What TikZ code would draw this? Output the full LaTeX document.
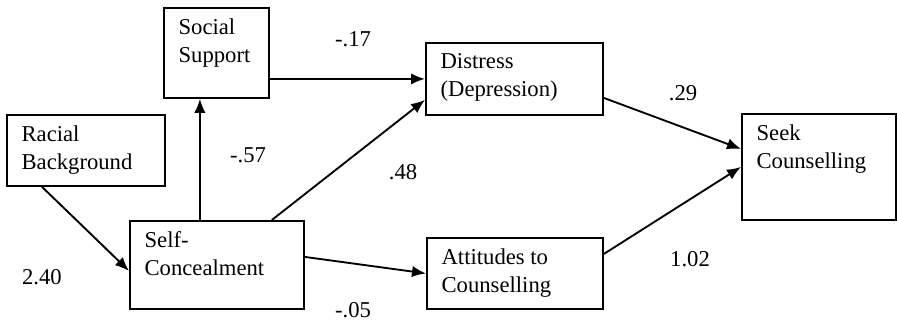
\documentclass[tikz,border=0pt]{standalone}
\usepackage{fontspec}
\setmainfont{Liberation Serif}
\usetikzlibrary{arrows.meta}

\newcommand{\vartext}[3]{\parbox[c][#2][t]{#1}{\raggedright #3}}

\tikzset{
  varbox/.style={draw, line width=1.4pt, anchor=north west, inner xsep=11pt, inner ysep=8pt},
  path/.style={line width=1.4pt, -{Latex[length=10.5pt,width=8.5pt]}},
  weight/.style={inner sep=0pt}
}

\begin{document}
\begin{tikzpicture}[x=0.75pt, y=-0.75pt, font=\fontsize{17pt}{21pt}\selectfont]
    \useasboundingbox (0,0) rectangle (897,323);

    \node[varbox] (SS) at (163, 7) {\vartext{56.75pt}{51.5pt}{Social\\Support}};
    \node[varbox] (RB) at (6, 114) {\vartext{96.5pt}{37.25pt}{Racial\\Background}};
    \node[varbox] (SC) at (129, 220) {\vartext{108.5pt}{50pt}{Self-\\Concealment}};
    \node[varbox] (DD) at (425, 42) {\vartext{110.75pt}{38pt}{Distress\\(Depression)}};
    \node[varbox] (AC) at (426, 237) {\vartext{110pt}{37.25pt}{Attitudes to\\Counselling}};
    \node[varbox] (SK) at (741, 113) {\vartext{93.5pt}{63.5pt}{Seek\\Counselling}};

    \coordinate (ssin) at ([xshift=-12.4pt]SS.south);

    \draw[path] (SS.east |- DD.west) -- (DD.west);
    \draw[path] (ssin |- SC.north) -- (ssin);
    \draw[path] ([xshift=-24.75pt]SC.north east) -- ([yshift=12pt]DD.south west);
    \draw[path] ([xshift=27pt]RB.south west) -- ([yshift=-4.5pt]SC.west);
    \draw[path] ([yshift=6pt]SC.east) -- (AC.west);
    \draw[path] ([yshift=-14.25pt]DD.east) -- ([yshift=13.5pt]SK.west);
    \draw[path] ([yshift=14.6pt]AC.east) -- (SK.west);

    \node[weight] (wssdd) at (353, 39) {-.17};
    \node[weight] (wscss) at (248, 155) {-.57};
    \node[weight] (wscdd) at (403, 172) {.48};
    \node[weight] (wrbsc) at (42, 277) {2.40};
    \node[weight] (wscac) at (353, 310) {-.05};
    \node[weight] (wddsk) at (683, 93) {.29};
    \node[weight] (wacsk) at (690, 259) {1.02};

\end{tikzpicture}
\end{document}
